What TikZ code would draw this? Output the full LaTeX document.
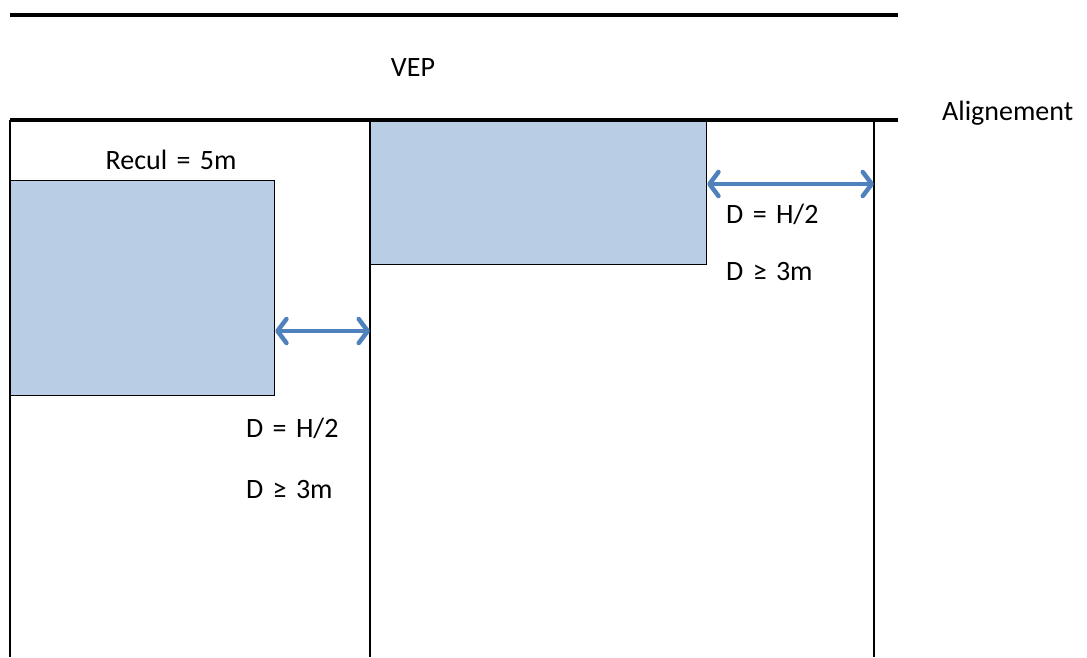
\documentclass[tikz,border=0pt]{standalone}
\usepackage{fontspec}
\setmainfont{Carlito}
\usetikzlibrary{arrows.meta}
\usetikzlibrary{positioning}

\definecolor{lotblue}{HTML}{B9CDE5}
\definecolor{gapblue}{HTML}{4F81BD}

\tikzset{
	road/.style={line width=4.5pt},
	limit/.style={line width=1.5pt},
	building/.style={draw=black, line width=1.2pt, fill=lotblue, inner sep=0pt, anchor=north west},
	gap/.style={draw=gapblue, line width=4.5pt, line cap=round,
		{Straight Barb[length=9pt,width=24pt,round]}-{Straight Barb[length=9pt,width=24pt,round]}},
	lbl/.style={font=\fontsize{28}{32}\selectfont, inner sep=0pt},
}

\begin{document}
\begin{tikzpicture}[x=1pt,y=-1pt]
		\useasboundingbox (0,0) rectangle (1087,657);

		% Plot limits
		\draw[limit] (10,120) -- (10,657);
		\draw[limit] (370,120) -- (370,657);
		\draw[limit] (874,120) -- (874,657);
		\coordinate (limA) at (370,331); % left gap ends here
		\coordinate (limB) at (874,184); % right gap ends here

		% Buildings
		\node[building, minimum width=264pt, minimum height=215pt] (bldA) at (10,180) {};
		\node[building, minimum width=336pt, minimum height=144pt] (bldB) at (370,120) {};

		% Road (VEP) and alignment
		\draw[road] (10,15) -- (898,15);
		\draw[road] (10,120) -- (898,120);
		\node[lbl] (vep) at (413,68) {VEP};
		\node[lbl, anchor=west] (align) at (942,113) {Alignement};

		% Distances between buildings and limits
		\draw[gap] (bldA.east |- limA) -- (limA);
		\draw[gap] (bldB.east |- limB) -- (limB);

		% Labels
		\node[lbl] (recul) at (171,160) {Recul\,\,=\,\,5m};
		\node[lbl, anchor=west] (distA) at (246,428) {D\,\,=\,\,H/2};
		\node[lbl, anchor=west] (minA) at (246,490) {D\,\,≥\,\,3m};
		\node[lbl, anchor=west] (distB) at (726,214) {D\,\,=\,\,H/2};
		\node[lbl, anchor=west] (minB) at (726,272) {D\,\,≥\,\,3m};

	\end{tikzpicture}
\end{document}
